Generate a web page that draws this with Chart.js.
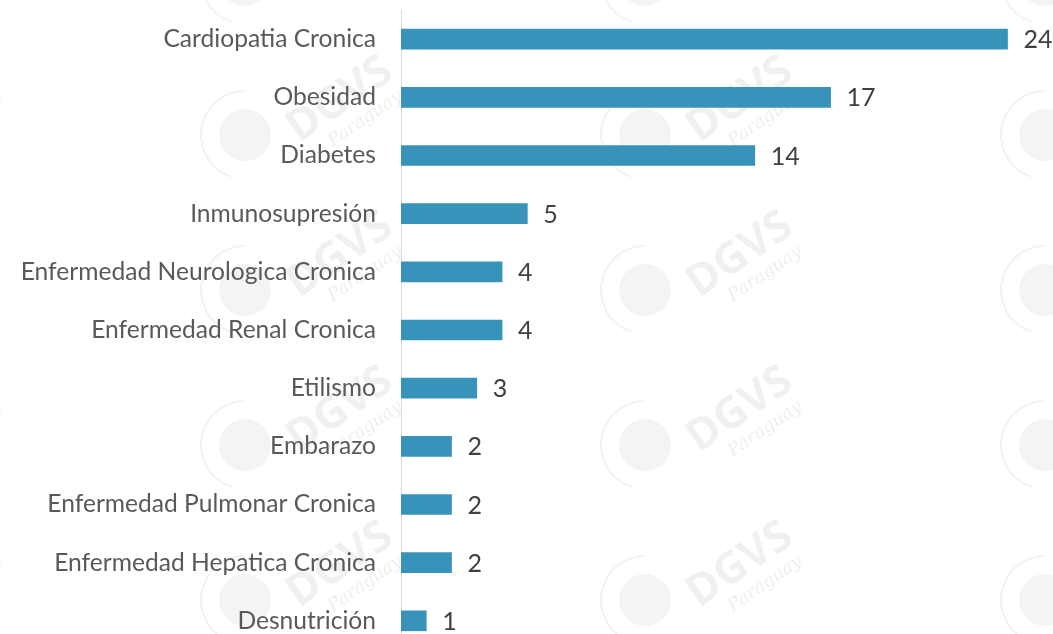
<!DOCTYPE html>
<html>
<head>
<meta charset="utf-8">
<script src="https://cdn.jsdelivr.net/npm/chart.js@4/dist/chart.umd.min.js"></script>
<style>
  html, body { margin: 0; padding: 0; background: #fff; overflow: hidden; }
  #wrap { width: 1053px; height: 660px; position: relative; }
</style>
</head>
<body>
<div id="wrap"><canvas id="factores"></canvas></div>
<script>
// categorias y casos
let categorias = [
  "Cardiopatia Cronica",
  "Obesidad",
  "Diabetes",
  "Inmunosupresión",
  "Enfermedad Neurologica Cronica",
  "Enfermedad Renal Cronica",
  "Etilismo",
  "Embarazo",
  "Enfermedad Pulmonar Cronica",
  "Enfermedad Hepatica Cronica",
  "Desnutrición"
];
let casos = [24, 17, 14, 5, 4, 4, 3, 2, 2, 2, 1];

// faint tiled watermark behind the chart
let watermark = {
  id: "watermark",
  beforeDraw(chart) {
    let ctx = chart.ctx;
    ctx.save();
    let cols = [-60, 340, 740, 1140];
    let rows = [-55, 100, 255, 410, 565, 720];
    for (let cx of cols) {
      for (let cy of rows) {
        // globe
        ctx.fillStyle = "rgba(0,0,0,0.045)";
        ctx.beginPath();
        ctx.arc(cx - 95, cy + 35, 26, 0, Math.PI * 2);
        ctx.fill();
        ctx.strokeStyle = "rgba(0,0,0,0.05)";
        ctx.lineWidth = 2;
        ctx.beginPath();
        ctx.arc(cx - 95, cy + 35, 44, Math.PI * 0.6, Math.PI * 1.5);
        ctx.stroke();
        // text
        ctx.save();
        ctx.translate(cx, cy);
        ctx.rotate(-0.6);
        ctx.fillStyle = "rgba(0,0,0,0.06)";
        ctx.font = "bold 44px 'Open Sans'";
        ctx.textAlign = "center";
        ctx.textBaseline = "middle";
        ctx.fillText("DGVS", 0, 0);
        ctx.fillStyle = "rgba(0,0,0,0.07)";
        ctx.font = "italic 18px 'DejaVu Serif'";
        ctx.fillText("Paraguay", 10, 30);
        ctx.restore();
      }
    }
    ctx.restore();
  }
};

// value labels at the end of each bar
let valueLabels = {
  id: "valueLabels",
  afterDatasetsDraw(chart) {
    let ctx = chart.ctx;
    let meta = chart.getDatasetMeta(0);
    ctx.save();
    ctx.font = "25px Lato";
    ctx.fillStyle = "#404040";
    ctx.textAlign = "left";
    ctx.textBaseline = "middle";
    meta.data.forEach(function(bar, i) {
      ctx.fillText(String(casos[i]), bar.x + 16, bar.y + 1);
    });
    ctx.restore();
  }
};

let chart = new Chart(document.getElementById("factores"), {
  type: "bar",
  data: {
    labels: categorias,
    datasets: [
      {
        data: casos,
        backgroundColor: "#3893bb",
        barThickness: 20
      }
    ]
  },
  options: {
    indexAxis: "y",
    responsive: true,
    maintainAspectRatio: false,
    animation: false,
    layout: { padding: 0 },
    plugins: { legend: { display: false }, tooltip: { enabled: false } },
    scales: {
      x: {
        display: false,
        min: 0,
        max: 25.8
      },
      y: {
        afterFit: function(scale) { scale.width = 401; },
        grid: { display: false, drawTicks: true, tickLength: 25 },
        border: { display: true, color: "#d9d9d9", width: 1 },
        ticks: {
          padding: 0,
          color: "#595959",
          font: { family: "Lato", size: 24.6, lineHeight: 0.82 }
        }
      }
    }
  },
  plugins: [watermark, valueLabels]
});
</script>
</body>
</html>
